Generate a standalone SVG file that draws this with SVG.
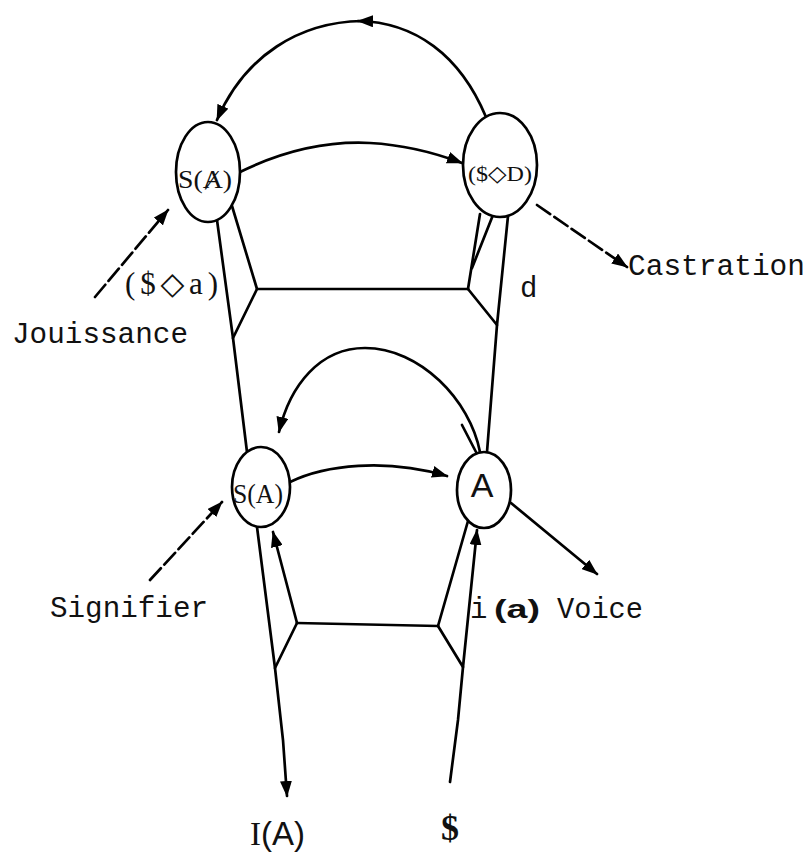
<svg xmlns="http://www.w3.org/2000/svg" width="808" height="852" viewBox="0 0 808 852">
<defs>
<marker id="ah" viewBox="0 0 16 12" refX="15" refY="6" markerWidth="16" markerHeight="12" markerUnits="userSpaceOnUse" orient="auto">
<path d="M0,0 L16,6 L0,12 z" fill="#000"/>
</marker>
</defs>
<style>
.ln{fill:none;stroke:#000;stroke-width:2.7;stroke-linejoin:round;stroke-linecap:round}
.ar{fill:none;stroke:#000;stroke-width:2.7;stroke-linecap:round;marker-end:url(#ah)}
.dash{stroke-dasharray:16 5}
.node{fill:#fff;stroke:#000;stroke-width:2.7}
.mono{font-family:"Liberation Mono","DejaVu Sans Mono",monospace;font-size:29px;fill:#111}
.serif{font-family:"Liberation Serif","DejaVu Serif",serif;fill:#111}
.sans{font-family:"Liberation Sans","DejaVu Sans",sans-serif;fill:#111}
</style>
<rect width="808" height="852" fill="#fff"/>
<g id="connectors">
<path class="ln" d="M217,220 L233,338 L247,452"/>
<path class="ln" d="M232,206 L257,289 L233,338"/>
<path class="ln" d="M257,289 L468,289"/>
<path class="ln" d="M468,289 L480,214"/>
<path class="ln" d="M472,268 L493,215"/>
<path class="ln" d="M468,289 L497,325"/>
<path class="ln" d="M508,216 L497,325 L487,452"/>
<path class="ln" d="M297,623 L438,626"/>
<path class="ln" d="M297,623 L275,668"/>
<path class="ln" d="M438,626 L468,521"/>
<path class="ln" d="M438,626 L463,667"/>
<path class="ar" d="M257,527 L275,668 L283,740 L287,796"/>
<path class="ar" d="M297,623 L273,532"/>
<path class="ar" d="M450,782 L458,720 L463,667 L477,530"/>
<path class="ar" d="M486,117 C460,55 415,22 358,21"/>
<path class="ar" d="M362,21 C300,22 245,55 217,120"/>
<path class="ar" d="M240,172 C285,150 330,141 370,143 C408,145 438,154 462,163"/>
<path class="ar" d="M480,452 C470,400 420,348 365,348 C320,348 290,385 279,432"/>
<path class="ln" d="M462,425 L476,452"/>
<path class="ar" d="M290,482 C325,465 385,458 447,476"/>
<path class="ar dash" d="M537,205 L627,267"/>
<path class="ar dash" d="M95,297 L168,210"/>
<path class="ar dash" d="M150,580 L222,502"/>
<path class="ar" d="M511,503 L597,574"/>
</g>
<g id="node-SAbar">
<ellipse class="node" cx="208" cy="172" rx="32" ry="50"/>
<text class="serif" x="205" y="188" font-size="26" text-anchor="middle" textLength="54" lengthAdjust="spacingAndGlyphs">S(Ⱥ)</text>
</g>
<g id="node-SD">
<ellipse class="node" cx="500" cy="165" rx="37" ry="52"/>
<text class="serif" x="500" y="181" font-size="22" text-anchor="middle" textLength="64" lengthAdjust="spacingAndGlyphs">($◇D)</text>
</g>
<g id="node-SA">
<ellipse class="node" cx="261" cy="487" rx="29" ry="40"/>
<text class="serif" x="258" y="503" font-size="28" text-anchor="middle" textLength="50" lengthAdjust="spacingAndGlyphs">S(A)</text>
</g>
<g id="node-A">
<ellipse class="node" cx="484" cy="490" rx="27" ry="38"/>
<text class="sans" x="482" y="497" font-size="34" text-anchor="middle">A</text>
</g>
<g id="labels">
<text class="serif" x="125" y="294" font-size="31" textLength="93" lengthAdjust="spacing">($◇a)</text>
<text class="mono" x="520" y="297" font-size="30">d</text>
<text class="mono" x="628" y="275" textLength="177" lengthAdjust="spacingAndGlyphs">Castration</text>
<text class="mono" x="12" y="343" textLength="176" lengthAdjust="spacingAndGlyphs">Jouissance</text>
<text class="mono" x="50" y="617" textLength="158" lengthAdjust="spacingAndGlyphs">Signifier</text>
<text class="mono" x="470" y="618">i</text>
<text class="sans" x="494" y="618" font-size="26" font-weight="bold" textLength="46" lengthAdjust="spacingAndGlyphs">(a)</text>
<text class="mono" x="557" y="618" textLength="86" lengthAdjust="spacingAndGlyphs">Voice</text>
<text x="250" y="845" font-size="33"><tspan class="serif">I</tspan><tspan class="sans">(A)</tspan></text>
<text class="serif" x="450" y="840" font-size="36" font-weight="bold" text-anchor="middle">$</text>
</g>
</svg>
